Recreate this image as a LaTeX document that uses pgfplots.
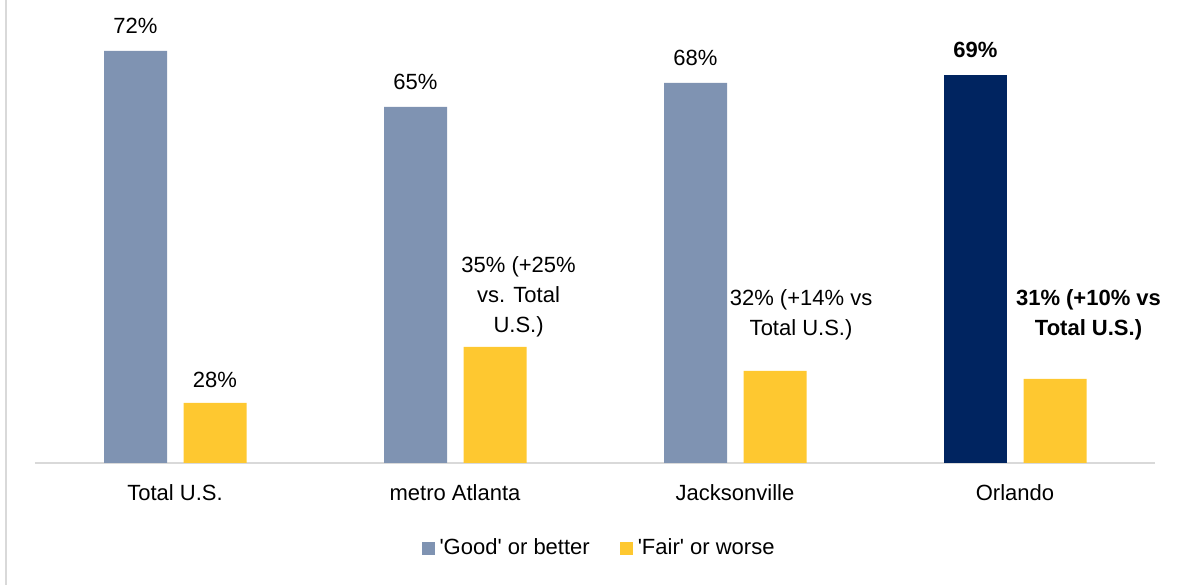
\documentclass[border=0pt]{standalone}
\usepackage{pgfplots}
\pgfplotsset{compat=1.18}
\usepackage{fontspec}
\setmainfont{Liberation Sans}[Ligatures=TeXOff]
\definecolor{goodc}{HTML}{7F93B2}
\definecolor{navyc}{HTML}{002460}
\definecolor{fairc}{HTML}{FEC830}
\definecolor{axisgray}{HTML}{D9D9D9}
\newcommand{\lbl}{\fontsize{22}{30}\selectfont}
\begin{document}
\lbl
\begin{tikzpicture}
\useasboundingbox (0,0) rectangle (1177pt,585pt);
\begin{axis}[
  at={(35pt,122pt)}, anchor=south west,
  scale only axis, width=1120pt, height=460pt,
  xmin=-0.5, xmax=3.5, ymin=20.5, ymax=78,
  axis y line=none, axis x line*=bottom,
  x axis line style={draw=axisgray, line width=1.5pt, -},
  xtick={0,1,2,3},
  xticklabels={Total U.S., metro Atlanta, Jacksonville, Orlando},
  major tick length=0pt,
  xticklabel style={font=\lbl, yshift=-14pt},
  /pgf/number format/assume math mode=true,
  legend style={at={(0.5036,-0.185)}, anchor=center, draw=none,
    font=\lbl, legend columns=2,
    /tikz/every odd column/.append style={column sep=3pt},
    /tikz/every even column/.append style={column sep=28pt}},
  legend image code/.code={\fill[#1,/tikz/.cd] (0pt,-6.5pt) rectangle (13pt,6.5pt);},
]
\addplot[ybar, bar width=63pt, bar shift=-39.5pt, fill=goodc, draw=none,
  nodes near coords={\pgfmathprintnumber{\pgfplotspointmeta}\%},
  every node near coord/.append style={font=\lbl, anchor=center, xshift=-39.5pt, yshift=25pt, text=black}]
  coordinates {(0,72) (1,65) (2,68)};
\addlegendentry{'Good' or better}
\addplot[ybar, bar width=63pt, bar shift=40pt, fill=fairc, draw=none]
  coordinates {(0,28) (1,35) (2,32) (3,31)};
\addlegendentry{'Fair' or worse}
\addplot[ybar, bar width=63pt, bar shift=-39.5pt, fill=navyc, draw=none, forget plot,
  nodes near coords={\textbf{\pgfmathprintnumber{\pgfplotspointmeta}\%}},
  every node near coord/.append style={font=\lbl, anchor=center, xshift=-39.5pt, yshift=25pt, text=black}]
  coordinates {(3,69)};
\coordinate (f0) at (axis cs:0,28);
\coordinate (f1) at (axis cs:1.227,41.25);
\coordinate (f2) at (axis cs:2.236,39);
\coordinate (f3) at (axis cs:3.2625,39.06);
\end{axis}
\node[font=\lbl, xshift=40pt, yshift=23pt] at (f0) {28\%};
\node[font=\lbl, align=center] at (f1) {35\% (+25\%\\vs. Total\\U.S.)};
\node[font=\lbl, align=center] at (f2) {32\% (+14\% vs\\Total U.S.)};
\node[font=\lbl\bfseries, align=center] at (f3) {31\% (+10\% vs\\Total U.S.)};
\draw[axisgray, line width=2pt] (6pt,0) -- (6pt,585pt);
\end{tikzpicture}
\end{document}
